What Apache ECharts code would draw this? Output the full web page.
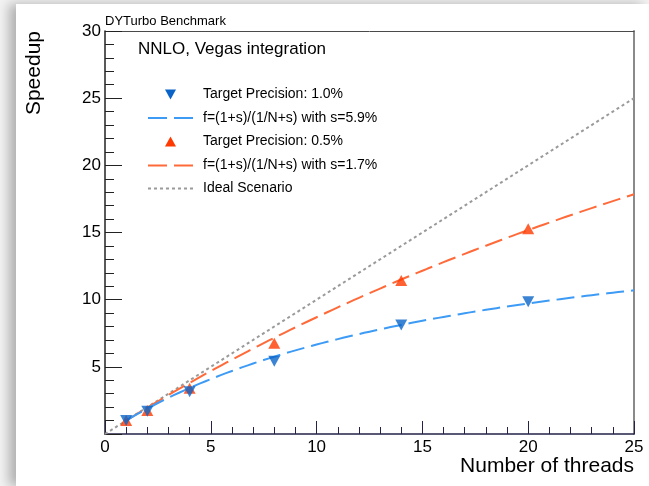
<!DOCTYPE html>
<html>
<head>
<meta charset="utf-8">
<script src="https://cdn.jsdelivr.net/npm/echarts@6/dist/echarts.min.js"></script>
<style>
  html, body { margin: 0; padding: 0; width: 649px; height: 486px; overflow: hidden; background: #f3f3f3; }
  #sheet { position: absolute; left: 16px; top: 4px; right: 0; bottom: 0; background: #fff;
           box-shadow: -7px 0 11px rgba(0,0,0,0.28); }
  #chart { position: absolute; left: 0; top: 0; width: 649px; height: 486px; }
</style>
</head>
<body>
<div id="sheet"></div>
<div id="chart"></div>
<script>
// Measured speedup of the DYTurbo NNLO run vs. number of threads
const threads = [1, 2, 4, 8, 14, 20];
const speedupPrec10 = [1.0, 1.7, 3.15, 5.42, 8.12, 9.84];   // target precision 1.0%
const speedupPrec05 = [1.0, 1.75, 3.4, 6.75, 11.42, 15.27]; // target precision 0.5%

// Serial fractions quoted in the fit labels
const serialFrac10 = 0.059;
const serialFrac05 = 0.017;

const xTicks = [0, 5, 10, 15, 20, 25];
const yTicks = [5, 10, 15, 20, 25, 30];

const FONT = '"Liberation Sans", Arial, Helvetica, sans-serif';
const BLUE_MK = '#0a64c8', BLUE_LN = '#3d9bf5';
const RED_MK = '#ff3a00', RED_LN = '#ff6a3a';
const GREY = '#9a9a9a';

// Amdahl-type fit f(N) = (1+s)/(1/N+s), drawn over the plotted thread range
function amdahl(s) {
  const pts = [];
  for (let n = 1; n <= 25.0001; n += 0.25) pts.push([n, (1 + s) / (1 / n + s)]);
  return pts;
}

const chart = echarts.init(document.getElementById('chart'), null, { renderer: 'canvas' });

const legendRows = [
  { kind: 'down', color: BLUE_MK, text: 'Target Precision: 1.0%', y: 94.5 },
  { kind: 'dash', color: BLUE_LN, text: 'f=(1+s)/(1/N+s) with s=5.9%', y: 118 },
  { kind: 'up', color: RED_MK, text: 'Target Precision: 0.5%', y: 141.5 },
  { kind: 'dash', color: RED_LN, text: 'f=(1+s)/(1/N+s) with s=1.7%', y: 165.5 },
  { kind: 'dot', color: GREY, text: 'Ideal Scenario', y: 188.5 }
];

const legendGraphics = [];
legendRows.forEach(r => {
  if (r.kind === 'down') {
    legendGraphics.push({ type: 'polygon', shape: { points: [[165, r.y - 5], [176, r.y - 5], [170.5, r.y + 5]] },
      style: { fill: r.color } });
  } else if (r.kind === 'up') {
    legendGraphics.push({ type: 'polygon', shape: { points: [[165, r.y + 5], [176, r.y + 5], [170.5, r.y - 5]] },
      style: { fill: r.color } });
  } else {
    legendGraphics.push({ type: 'line', shape: { x1: 148, y1: r.y, x2: 193, y2: r.y },
      style: { stroke: r.color, lineWidth: 2, lineDash: r.kind === 'dash' ? [19, 7] : [3, 3] } });
  }
  legendGraphics.push({ type: 'text', x: 203, y: r.y,
    style: { text: r.text, font: '14px ' + FONT, fill: '#000', textVerticalAlign: 'middle', verticalAlign: 'middle' } });
});

const option = {
  animation: false,
  backgroundColor: 'transparent',
  grid: { left: 105, top: 31, right: 15, bottom: 52, containLabel: false },
  xAxis: [
    {
      type: 'value', min: 0, max: 25, interval: 5, position: 'bottom',
      axisLine: { show: true, onZero: false, lineStyle: { color: '#23234a', width: 1.5 } },
      axisTick: { show: true, inside: true, length: 13, lineStyle: { color: '#23234a', width: 1 } },
      minorTick: { show: true, splitNumber: 5, length: 7, lineStyle: { color: '#23234a', width: 1 } },
      splitLine: { show: false },
      axisLabel: { color: '#000', fontSize: 17, fontFamily: FONT, margin: 5,
        formatter: v => xTicks.includes(v) ? String(v) : '' }
    },
    {
      type: 'value', min: 0, max: 25, position: 'top',
      axisLine: { show: true, onZero: false, lineStyle: { color: '#4a4a4a', width: 1 } },
      axisTick: { show: false }, axisLabel: { show: false }, splitLine: { show: false }
    }
  ],
  yAxis: [
    {
      type: 'value', min: 0, max: 30, interval: 5, position: 'left',
      axisLine: { show: true, onZero: false, lineStyle: { color: '#222', width: 1.5 } },
      axisTick: { show: true, inside: true, length: 17, lineStyle: { color: '#222', width: 1 } },
      minorTick: { show: true, splitNumber: 5, length: 9, lineStyle: { color: '#222', width: 1 } },
      splitLine: { show: false },
      axisLabel: { color: '#000', fontSize: 17, fontFamily: FONT, margin: 4,
        formatter: v => yTicks.includes(v) ? String(v) : '' }
    },
    {
      type: 'value', min: 0, max: 30, position: 'right',
      axisLine: { show: true, onZero: false, lineStyle: { color: '#8a8a8a', width: 2 } },
      axisTick: { show: false }, axisLabel: { show: false }, splitLine: { show: false }
    }
  ],
  series: [
    {
      name: 'Ideal Scenario', type: 'line', data: [[0, 0], [25, 25]],
      showSymbol: false, silent: true, z: 2,
      lineStyle: { color: GREY, width: 2, type: [3, 3] }
    },
    {
      name: 'fit s=1.7%', type: 'line', data: amdahl(serialFrac05),
      showSymbol: false, smooth: false, silent: true, z: 3,
      lineStyle: { color: RED_LN, width: 2, type: [18, 7] }
    },
    {
      name: 'fit s=5.9%', type: 'line', data: amdahl(serialFrac10),
      showSymbol: false, smooth: false, silent: true, z: 4,
      lineStyle: { color: BLUE_LN, width: 2, type: [18, 7] }
    },
    {
      name: 'Target Precision: 0.5%', type: 'scatter', z: 5,
      data: threads.map((n, i) => [n, speedupPrec05[i]]),
      symbol: 'triangle', symbolSize: [12, 11], itemStyle: { color: RED_MK }
    },
    {
      name: 'Target Precision: 1.0%', type: 'scatter', z: 6,
      data: threads.map((n, i) => [n, speedupPrec10[i]]),
      symbol: 'triangle', symbolRotate: 180, symbolSize: [12, 11], itemStyle: { color: BLUE_MK }
    }
  ],
  graphic: [
    { type: 'text', x: 105, y: 21.5,
      style: { text: 'DYTurbo Benchmark', font: '13px ' + FONT, fill: '#000', verticalAlign: 'middle' } },
    { type: 'text', x: 138, y: 49,
      style: { text: 'NNLO, Vegas integration', font: '17px ' + FONT, fill: '#000', verticalAlign: 'middle' } },
    { type: 'text', x: 34, y: 31, rotation: Math.PI / 2,
      style: { text: 'Speedup', font: '21px ' + FONT, fill: '#000', align: 'right', verticalAlign: 'middle' } },
    { type: 'text', x: 634, y: 466,
      style: { text: 'Number of threads', font: '21px ' + FONT, fill: '#000', align: 'right', verticalAlign: 'middle' } }
  ].concat(legendGraphics)
};

chart.setOption(option);
</script>
</body>
</html>
